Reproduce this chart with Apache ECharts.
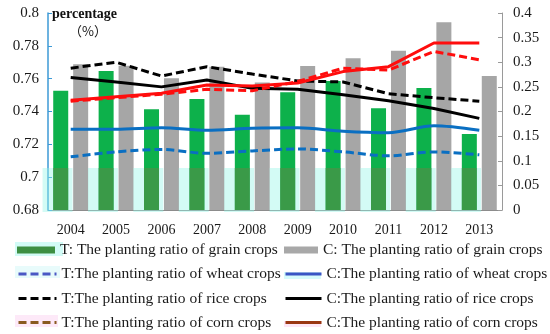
<!DOCTYPE html>
<html>
<head>
<meta charset="utf-8">
<script src="https://cdn.jsdelivr.net/npm/echarts@6/dist/echarts.min.js"></script>
<style>html,body{margin:0;padding:0;background:#fff;}#c{width:550px;height:334px;}</style>
</head>
<body>
<div id="c"></div>
<script>
const years = ['2004','2005','2006','2007','2008','2009','2010','2011','2012','2013'];
const tGrain = [0.7527,0.7647,0.7413,0.7476,0.7380,0.7517,0.7586,0.7420,0.7543,0.7263];
const cGrain = [0.7688,0.7679,0.7602,0.7673,0.7576,0.7677,0.7724,0.7770,0.7943,0.7616];
const tWheat = [0.108,0.118,0.123,0.115,0.120,0.124,0.118,0.110,0.118,0.112];
const cWheat = [0.164,0.164,0.167,0.162,0.166,0.167,0.160,0.157,0.171,0.162];
const tRice  = [0.288,0.300,0.272,0.291,0.276,0.262,0.260,0.236,0.228,0.221];
const cRice  = [0.269,0.260,0.250,0.264,0.247,0.245,0.234,0.222,0.206,0.186];
const tCorn  = [0.221,0.228,0.235,0.245,0.242,0.261,0.288,0.284,0.322,0.305];
const cCorn  = [0.223,0.230,0.237,0.254,0.252,0.258,0.281,0.291,0.339,0.339];
const leftTicks = {min:0.68, max:0.8, interval:0.02};
const rightTicks = {min:0, max:0.4, interval:0.05};
const BAND_TOP = 0.7056;

const names = {
  tG:'T: The planting ratio of grain crops', cG:'C: The planting ratio of grain crops',
  tW:'T:The planting ratio of wheat crops', cW:'C:The planting ratio of wheat crops',
  tR:'T:The planting ratio of rice crops', cR:'C:The planting ratio of rice crops',
  tC:'T:The planting ratio of corn crops', cC:'C:The planting ratio of corn crops'
};
const FONT = 'Liberation Serif';
const dash = [8,4];
const fmt = v => String(+(+v).toFixed(2));

const legendText = {fontFamily:FONT, fontSize:15.5, color:'#1a1a1a'};
const noSym = {color:'rgba(0,0,0,0)', borderWidth:0, opacity:0};
function leg(item, left, top, w){
  return {orient:'horizontal', left:left, top:top, itemWidth:w, itemHeight:7, padding:0,
    textStyle:legendText, selectedMode:false, data:[item]};
}
const rowTop = [242, 266, 290.5, 314.5];

const chart = echarts.init(document.getElementById('c'));
chart.setOption({
  animation:false,
  grid:{left:48, right:48, top:13, bottom:124},
  graphic:[
    {type:'rect', z:0, shape:{x:15,y:242,width:48,height:14}, style:{fill:'#d2fbf6'}},
    {type:'rect', z:0, shape:{x:15,y:266,width:45,height:12}, style:{fill:'#e8fbfb'}},
    {type:'rect', z:0, shape:{x:15,y:315,width:43,height:12}, style:{fill:'#fde9f8'}},
    {type:'rect', z:0, shape:{x:284,y:272,width:37,height:7}, style:{fill:'#d6fbfb'}},
    {type:'rect', z:0, shape:{x:284,y:321,width:37,height:6}, style:{fill:'#fde6f6'}},
    {type:'text', left:52, top:7, style:{text:'percentage', font:'bold 14px "Liberation Serif"', fill:'#111'}},
    {type:'text', left:69, top:25, style:{text:'（%）', font:'13px "Noto Sans CJK SC"', fill:'#111'}}
  ],
  legend:[
    leg({name:names.tG, icon:'rect', itemStyle:{color:'#3d8f42'}}, 17, rowTop[0], 38),
    leg({name:names.tW, itemStyle:noSym, lineStyle:{color:'#4a58c4', width:3, type:dash}}, 17, rowTop[1], 38),
    leg({name:names.tR, itemStyle:noSym, lineStyle:{color:'#000', width:3, type:dash}}, 17, rowTop[2], 38),
    leg({name:names.tC, itemStyle:noSym, lineStyle:{color:'#8a5a20', width:3, type:dash}}, 17, rowTop[3], 38),
    leg({name:names.cG, icon:'rect', itemStyle:{color:'#a8a8a8'}}, 284, rowTop[0], 34),
    leg({name:names.cW, itemStyle:noSym, lineStyle:{color:'#3a55c4', width:3, type:'solid'}}, 284, rowTop[1], 36),
    leg({name:names.cR, itemStyle:noSym, lineStyle:{color:'#000', width:3, type:'solid'}}, 284, rowTop[2], 36),
    leg({name:names.cC, itemStyle:noSym, lineStyle:{color:'#9a3612', width:3, type:'solid'}}, 284, rowTop[3], 36)
  ],
  xAxis:{type:'category', data:years, boundaryGap:true,
    axisLine:{lineStyle:{color:'#8c8c8c', width:1}},
    axisTick:{inside:true, length:4, lineStyle:{color:'#8c8c8c'}},
    axisLabel:{fontFamily:FONT, fontSize:14, color:'#1a1a1a', margin:13}},
  yAxis:[
    {type:'value', min:leftTicks.min, max:leftTicks.max, interval:leftTicks.interval,
     splitLine:{show:false},
     axisLine:{show:true, lineStyle:{color:'#3d9ad6', width:1.5}},
     axisTick:{show:true, inside:true, length:4, lineStyle:{color:'#3d9ad6'}},
     axisLabel:{fontFamily:FONT, fontSize:15, color:'#1a1a1a', margin:9, formatter:fmt}},
    {type:'value', min:rightTicks.min, max:rightTicks.max, interval:rightTicks.interval,
     splitLine:{show:false},
     axisLine:{show:true, lineStyle:{color:'#9a9a9a', width:1}},
     axisTick:{show:true, inside:true, length:4, lineStyle:{color:'#9a9a9a'}},
     axisLabel:{fontFamily:FONT, fontSize:15, color:'#1a1a1a', margin:11, formatter:fmt}}
  ],
  series:[
    {name:names.tG, type:'bar', yAxisIndex:0, data:tGrain, barWidth:15, barGap:'33%', z:2,
     itemStyle:{color:'#0db14b'}},
    {name:names.cG, type:'bar', yAxisIndex:0, data:cGrain, barWidth:15, barGap:'33%', z:2,
     itemStyle:{color:'#a6a6a6'}},
    {type:'custom', yAxisIndex:0, z:3, silent:true, tooltip:{show:false},
     data:years.map((y,i)=>[i, BAND_TOP]),
     encode:{x:0, y:1},
     renderItem:(params, api)=>{
       const idx = api.value(0);
       const top = api.coord([idx, BAND_TOP]);
       const bot = api.coord([idx, leftTicks.min]);
       const bw = api.size([1,0])[0];
       const cx = top[0];
       return {type:'group', children:[
         {type:'rect', shape:{x:cx-0.62*bw, y:top[1], width:0.66*bw, height:bot[1]-top[1]+2},
          style:{fill:'rgba(150,245,232,0.42)'}},
         {type:'rect', shape:{x:cx-17.5, y:top[1], width:15, height:bot[1]-top[1]},
          style:{fill:'#3a9a48'}}
       ]};
     }},
    {name:names.tW, type:'line', yAxisIndex:1, data:tWheat, symbol:'none', smooth:0.3, z:4,
     lineStyle:{color:'#0a6fc2', width:3, type:dash}, itemStyle:{color:'#0a6fc2'}},
    {name:names.cW, type:'line', yAxisIndex:1, data:cWheat, symbol:'none', smooth:0.3, z:4,
     lineStyle:{color:'#0a6fc2', width:3}, itemStyle:{color:'#0a6fc2'}},
    {name:names.tR, type:'line', yAxisIndex:1, data:tRice, symbol:'none', z:4,
     lineStyle:{color:'#000', width:3, type:dash}, itemStyle:{color:'#000'}},
    {name:names.cR, type:'line', yAxisIndex:1, data:cRice, symbol:'none', z:4,
     lineStyle:{color:'#000', width:3}, itemStyle:{color:'#000'}},
    {name:names.tC, type:'line', yAxisIndex:1, data:tCorn, symbol:'none', z:4,
     lineStyle:{color:'#ff0d0d', width:3, type:dash}, itemStyle:{color:'#ff0d0d'}},
    {name:names.cC, type:'line', yAxisIndex:1, data:cCorn, symbol:'none', z:4,
     lineStyle:{color:'#ff0d0d', width:3}, itemStyle:{color:'#ff0d0d'}}
  ]
});
</script>
</body>
</html>
